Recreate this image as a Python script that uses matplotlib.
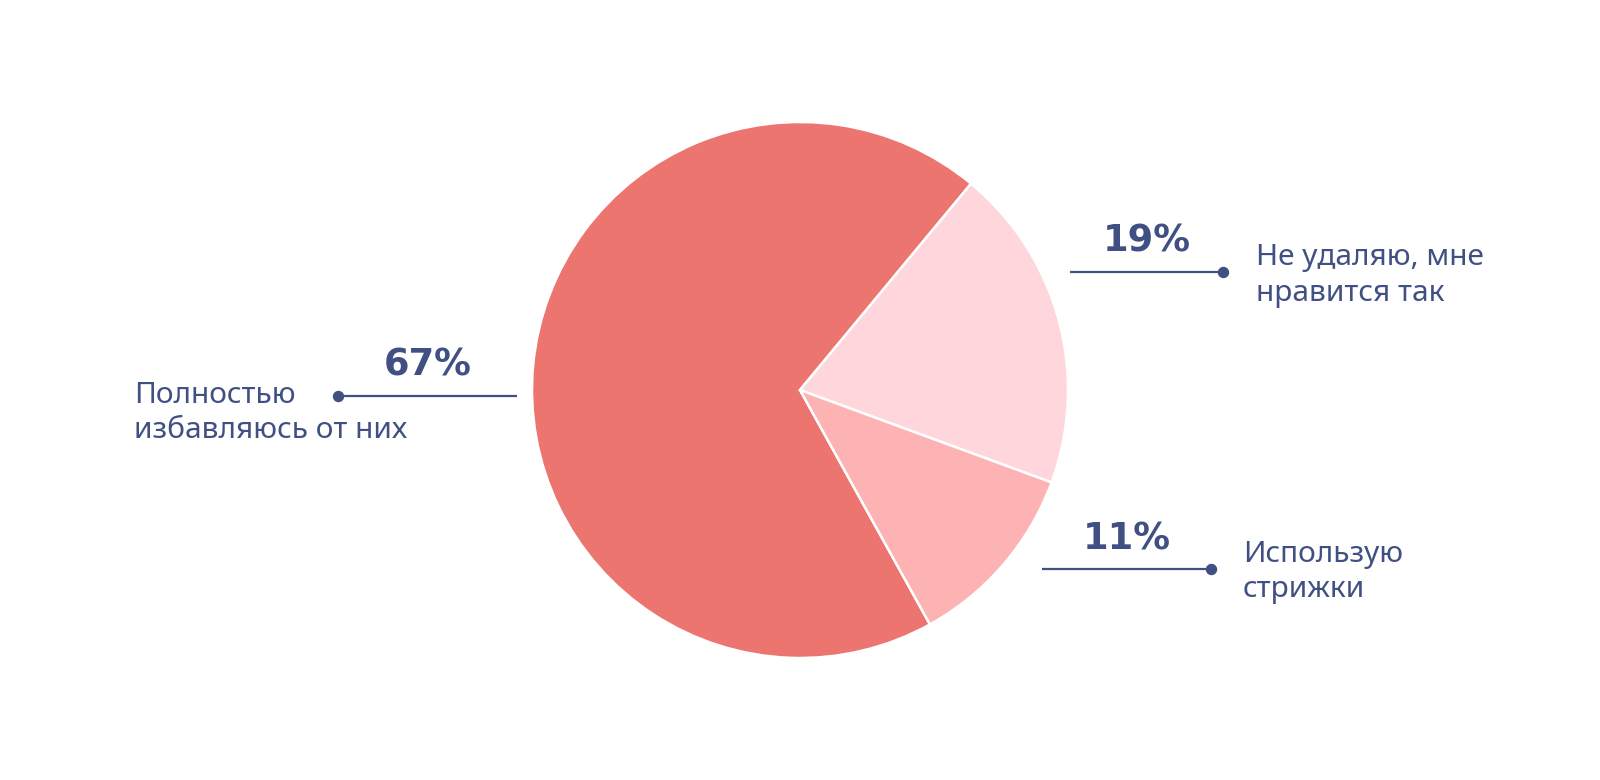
import matplotlib
matplotlib.use("Agg")
import matplotlib.pyplot as plt

plt.rcParams['font.family'] = ['Noto Sans', 'DejaVu Sans']

# data
answers = ['Полностью\nизбавляюсь от них', 'Не удаляю, мне\nнравится так', 'Использую\nстрижки']
shares = [67, 19, 11]
colors = ['#EC7570', '#FED6DB', '#FDB3B3']
TEXT = '#415083'

W, H = 1600, 780
fig = plt.figure(figsize=(W / 100, H / 100), dpi=100)
ax = fig.add_axes([0, 0, 1, 1])

def py(y):
    # pixel row (from top) -> data y
    return H - y

ax.pie(shares, colors=colors, center=(800, py(390)), radius=268,
       startangle=-61, counterclock=False,
       wedgeprops=dict(edgecolor='white', linewidth=1.8))

# pie() resets the limits, so set them afterwards
ax.set_xlim(0, W)
ax.set_ylim(0, H)
ax.set_aspect('equal')
ax.axis('off')

# callouts: (line x0, x1, y, dot side, pct x, pct baseline, label x, label baseline)
callouts = [
    (338, 517, 396, 'left', 428, 375, 134, 403),
    (1070, 1223, 272, 'right', 1147, 252, 1256, 265),
    (1042, 1211, 569, 'right', 1127, 549, 1243, 562),
]

for (x0, x1, yl, side, px, pb, lx, lb), name, val in zip(callouts, answers, shares):
    ax.plot([x0, x1], [py(yl), py(yl)], color=TEXT, lw=1.6, solid_capstyle='butt')
    dx = x0 if side == 'left' else x1
    ax.plot([dx], [py(yl)], 'o', color=TEXT, markersize=7.2)
    ax.text(px, py(pb), f'{val}%', ha='center', va='baseline',
            fontsize=26.5, fontweight='bold', color=TEXT,
            family=['DejaVu Sans'])
    lines = name.split('\n')
    for i, ln in enumerate(lines):
        ax.text(lx, py(lb + i * 35.5), ln, ha='left', va='baseline',
                fontsize=21.5, color=TEXT)

fig.savefig('out.png', dpi=100, facecolor='white')
